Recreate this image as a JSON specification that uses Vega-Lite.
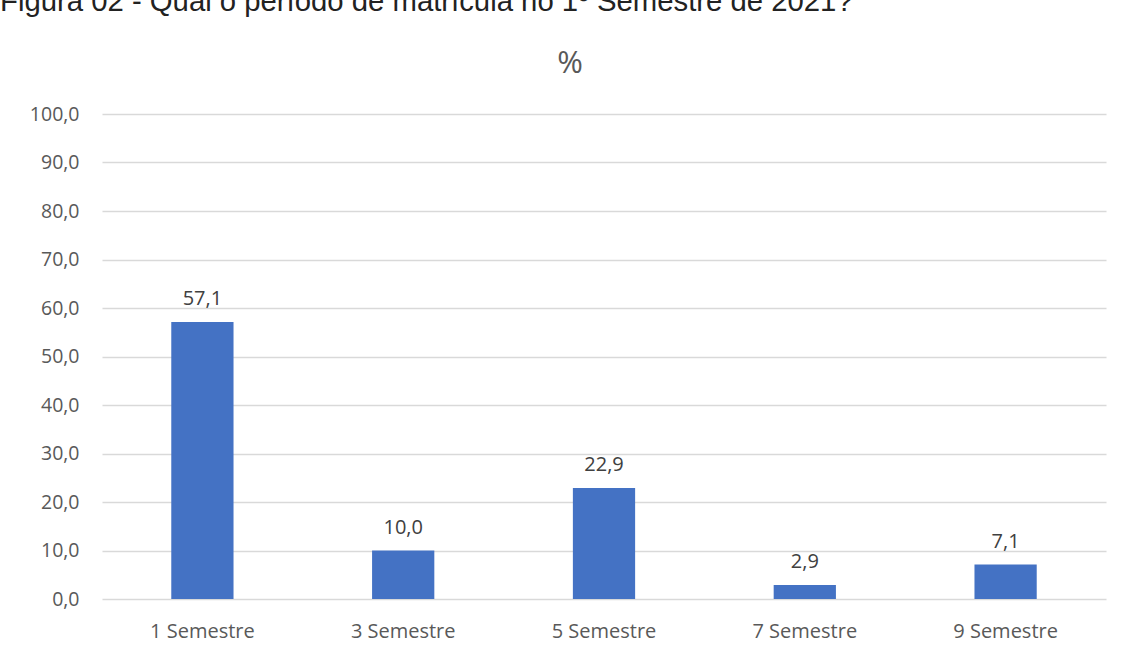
{
  "$schema": "https://vega.github.io/schema/vega-lite/v6.json",
  "background": "white",
  "padding": {"left": 0, "top": -13, "right": 15, "bottom": 5},
  "config": {
    "locale": {"number": {"decimal": ",", "thousands": ".", "grouping": [3], "currency": ["R$", ""]}},
    "view": {"stroke": null},
    "font": "Open Sans"
  },
  "title": {
    "text": "Figura 02 - Qual o período de matrícula no 1º Semestre de 2021?",
    "anchor": "start",
    "font": "Liberation Sans",
    "fontSize": 29.3,
    "fontWeight": "normal",
    "color": "#222222",
    "baseline": "alphabetic",
    "offset": 8
  },
  "data": {"values": [
    {"periodo": "1 Semestre", "pct": 57.1},
    {"periodo": "3 Semestre", "pct": 10.0},
    {"periodo": "5 Semestre", "pct": 22.9},
    {"periodo": "7 Semestre", "pct": 2.9},
    {"periodo": "9 Semestre", "pct": 7.1}
  ]},
  "vconcat": [
    {
      "width": 1004,
      "height": 485,
      "title": {
        "text": "%",
        "fontSize": 31,
        "fontWeight": "normal",
        "color": "#595959",
        "font": "Open Sans",
        "offset": 24,
        "dx": -34,
        "anchor": "middle"
      },
      "encoding": {
        "x": {
          "field": "periodo",
          "type": "nominal",
          "sort": null,
          "scale": {"paddingInner": 0.69, "paddingOuter": 0.345},
          "axis": {
            "title": null,
            "labelAngle": 0,
            "labelFontSize": 20,
            "labelColor": "#595959",
            "labelPadding": 22,
            "ticks": false,
            "domain": false,
            "grid": false
          }
        },
        "y": {
          "field": "pct",
          "type": "quantitative",
          "scale": {"domain": [0, 100]},
          "axis": {
            "title": null,
            "values": [0, 10, 20, 30, 40, 50, 60, 70, 80, 90, 100],
            "format": ".1f",
            "labelFontSize": 19.5,
            "labelColor": "#595959",
            "labelPadding": 23,
            "minExtent": 102,
            "maxExtent": 102,
            "ticks": false,
            "domain": false,
            "gridColor": "#d9d9d9",
            "gridWidth": 1.3
          }
        }
      },
      "layer": [
        {"mark": {"type": "bar", "color": "#4472C4"}},
        {
          "mark": {"type": "text", "baseline": "alphabetic", "dy": -17, "fontSize": 20, "color": "#404040"},
          "encoding": {"text": {"field": "pct", "type": "quantitative", "format": ".1f"}}
        }
      ]
    }
  ]
}
